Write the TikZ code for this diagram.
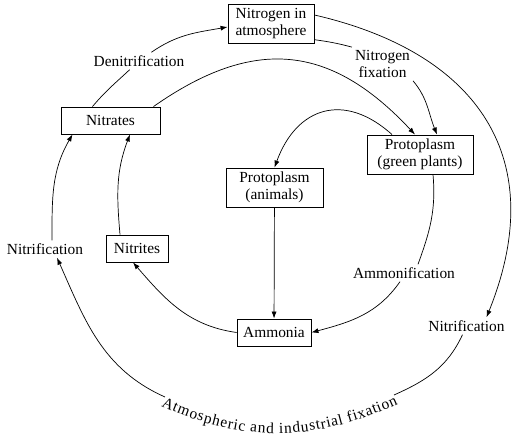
\documentclass[tikz,border=0pt]{standalone}
\usepackage{fontspec}
\setmainfont{Liberation Serif}
\usetikzlibrary{arrows.meta, decorations.text}

\begin{document}
\fontsize{15.4}{17}\selectfont
\begin{tikzpicture}[
  x=1pt, y=1pt,
  >={Latex[length=7pt, width=5pt]},
  box/.style={draw, line width=0.9pt, align=center, inner xsep=4pt, inner ysep=4pt,
              minimum height=27pt},
  lbl/.style={align=center, inner sep=3pt},
  arr/.style={draw, line width=0.7pt, ->},
  link/.style={draw, line width=0.7pt}
]
\useasboundingbox (0,0) rectangle (523,441);

% the pools of nitrogen
\node[box, minimum width=86pt]  (atm)      at (271,417)   {Nitrogen in\\atmosphere};
\node[box, minimum width=99pt]  (nitrates) at (110.5,320.5) {Nitrates};
\node[box, minimum width=106pt] (green)    at (420,286.5) {Protoplasm\\(green plants)};
\node[box, minimum width=97pt]  (animals)  at (274.5,253.5) {Protoplasm\\(animals)};
\node[box, minimum width=62pt]  (nitrites) at (137,192.5) {Nitrites};
\node[box, minimum width=74pt]  (ammonia)  at (274,108.5) {Ammonia};

% process labels
\node[lbl] (denit)   at (139,380)   {Denitrification};
\node[lbl] (nfix)    at (382.5,377) {Nitrogen\\fixation};
\node[lbl] (nitL)    at (45,192)    {Nitrification};
\node[lbl] (ammonif) at (404,168)   {Ammonification};
\node[lbl] (nitR)    at (466.5,115) {Nitrification};
\coordinate (fixL) at (165,44);
\coordinate (fixR) at (394,46);

% denitrification, broken by its label
\draw[link] ([xshift=-18pt]nitrates.north) to[out=50, in=-137] (denit);
\draw[arr] (denit) to[out=35, in=190] ([yshift=-3pt]atm.west);
% nitrogen fixation, broken by its label
\draw[link] ([yshift=4pt]atm.south east) to[out=-8, in=165] (nfix.north west);
\draw[arr] (nfix.south east) to[out=-50, in=112] ([xshift=17pt]green.north);
% inner arc from nitrates to plants
\draw[arr] ([xshift=43pt]nitrates.north) to[out=35, in=133, looseness=1.2] ([xshift=-5pt]green.north);
% plants eaten by animals
\draw[arr] ([xshift=-28pt]green.north) to[out=138, in=70, looseness=1.35] (animals.north);
\draw[arr] (animals) -- (ammonia);
% ammonification, broken by its label
\draw[link] ([xshift=13pt]green.south) to[out=-85, in=70] ([xshift=14pt]ammonif.north);
\draw[arr] ([xshift=-4pt]ammonif.south) to[out=-125, in=15] (ammonia.east);
% nitrification steps
\draw[arr] (ammonia.west) to[out=172, in=-49] ([xshift=-4pt]nitrites.south);
\draw[arr] ([xshift=-17pt]nitrites.north) to[out=95, in=-111] ([xshift=19.5pt]nitrates.south);
\draw[arr] ([xshift=7pt]nitL.north) to[out=90, in=-120] ([xshift=-38pt]nitrates.south);
% outer ring: atmospheric and industrial fixation
\draw[arr] ([yshift=9pt]atm.east) to[out=-13, in=68, looseness=1.25] ([xshift=20pt]nitR.north);
\draw[link] ([xshift=-4pt]nitR.south) to[out=-115, in=24] (fixR);
\path[decorate, decoration={text along path, text align=fit to path, raise=-10pt,
      text={Atmospheric and industrial fixation}}]
  (fixL) to[out=-24, in=-156] (fixR);
\draw[arr] (fixL) to[out=156, in=-66] ([xshift=12pt]nitL.south);
\end{tikzpicture}
\end{document}
